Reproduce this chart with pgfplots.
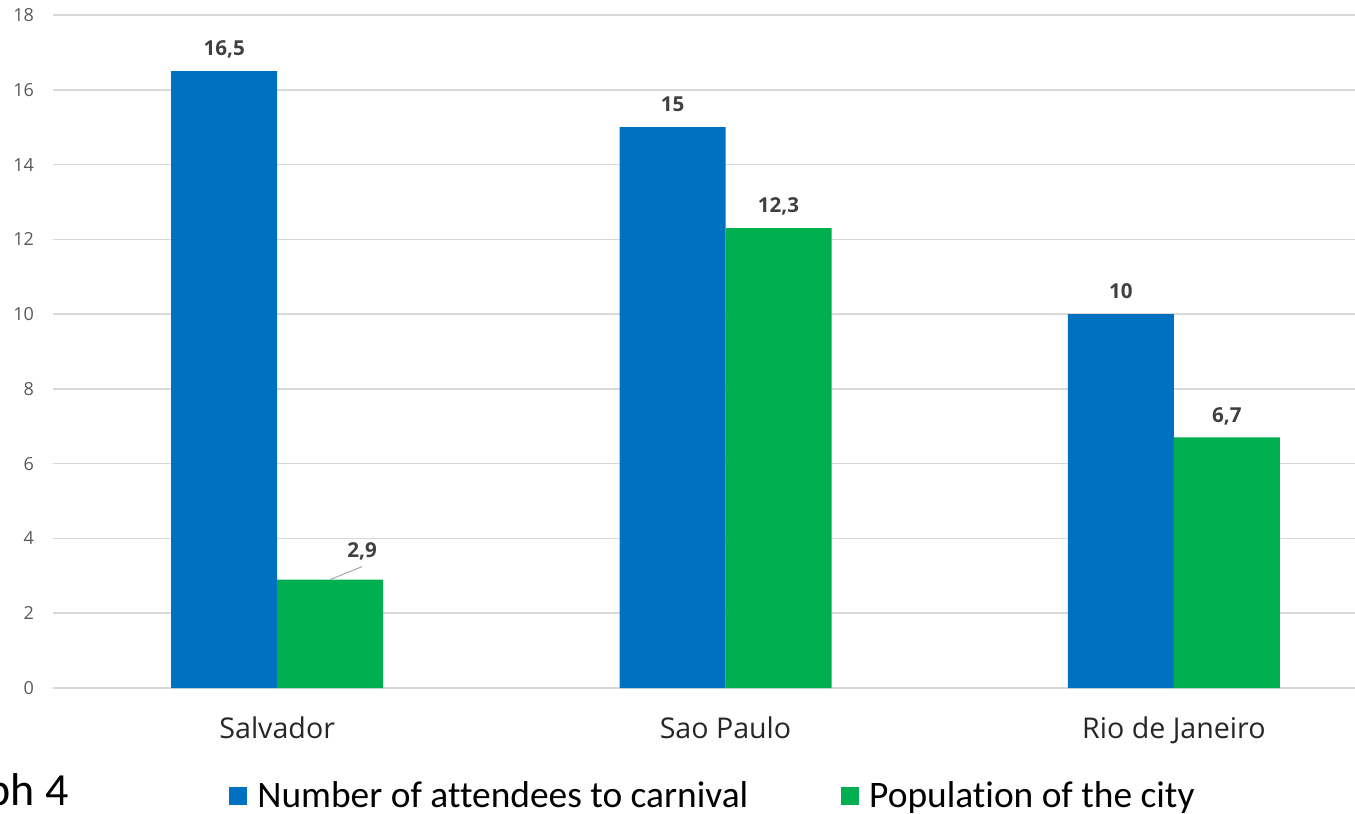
\documentclass[border=0pt]{standalone}
\usepackage{fontspec}
\setmainfont{Open Sans}
\newfontfamily\carlito[Ligatures=NoCommon]{Carlito}
\usepackage{pgfplots}
\pgfplotsset{compat=1.18}
\definecolor{barblue}{HTML}{0070C0}
\definecolor{bargreen}{HTML}{00B050}
\definecolor{gridgray}{HTML}{D9D9D9}
\definecolor{ticktext}{HTML}{595959}
\definecolor{labtext}{HTML}{404040}
\definecolor{cattext}{HTML}{262626}
\begin{document}
\begin{tikzpicture}
\path[use as bounding box] (0,0) rectangle (677.5pt,407pt);
\clip (0,0) rectangle (677.5pt,407pt);
\begin{axis}[
  at={(26.5pt,63pt)}, anchor=south west,
  scale only axis, width=651pt, height=336.5pt,
  ybar=0pt, bar width=53pt,
  xmin=-0.5, xmax=2.404, ymin=0, ymax=18,
  xtick={0,1,2}, xticklabels={Salvador,Sao Paulo,Rio de Janeiro},
  ytick={0,2,...,18},
  ymajorgrids, grid style={gridgray, line width=0.75pt},
  axis line style={draw=none},
  major tick length=0pt,
  /pgf/number format/assume math mode=true,
  /pgf/number format/use comma,
  /pgf/number format/fixed,
  /pgf/number format/precision=1,
  yticklabel style={font=\fontsize{9}{10}\selectfont, text=ticktext, xshift=-6pt},
  xticklabel style={font=\fontsize{14.3}{16}\selectfont, text=cattext, yshift=-11pt},
  nodes near coords,
  every node near coord/.append style={font=\bfseries\fontsize{10.3}{12}\selectfont, text=labtext, inner sep=0pt, text depth=0pt, anchor=south, yshift=7.5pt},
  legend columns=2,
  legend style={draw=none, fill=none, font=\carlito\fontsize{18.7}{20}\selectfont, text=black,
    at={(0.510,-0.160)}, anchor=center,
    nodes={inner xsep=5pt},
    /tikz/every even column/.append style={column sep=41.5pt}},
  legend image code/.code={\fill[#1] (0pt,-4.5pt) rectangle (9pt,4.5pt);},
]
\addplot[fill=barblue, draw=none] coordinates {(0,16.5) (1,15) (2,10)};
\addlegendentry{Number of attendees to carnival}
\addplot[fill=bargreen, draw=none,
  coordinate style/.condition={\coordindex==0}{xshift=16pt, yshift=3.5pt}] coordinates {(0,2.9) (1,12.3) (2,6.7)};
\addlegendentry{Population of the city}
\draw[gray!70, line width=0.5pt] (axis cs:0,2.9) ++(26.5pt,0pt) -- ++(16pt,6.5pt);
\end{axis}
\node[anchor=base east, inner sep=0pt, font=\carlito\fontsize{23}{25}\selectfont] at (34.5pt,4.5pt) {Graph 4};
\end{tikzpicture}
\end{document}
